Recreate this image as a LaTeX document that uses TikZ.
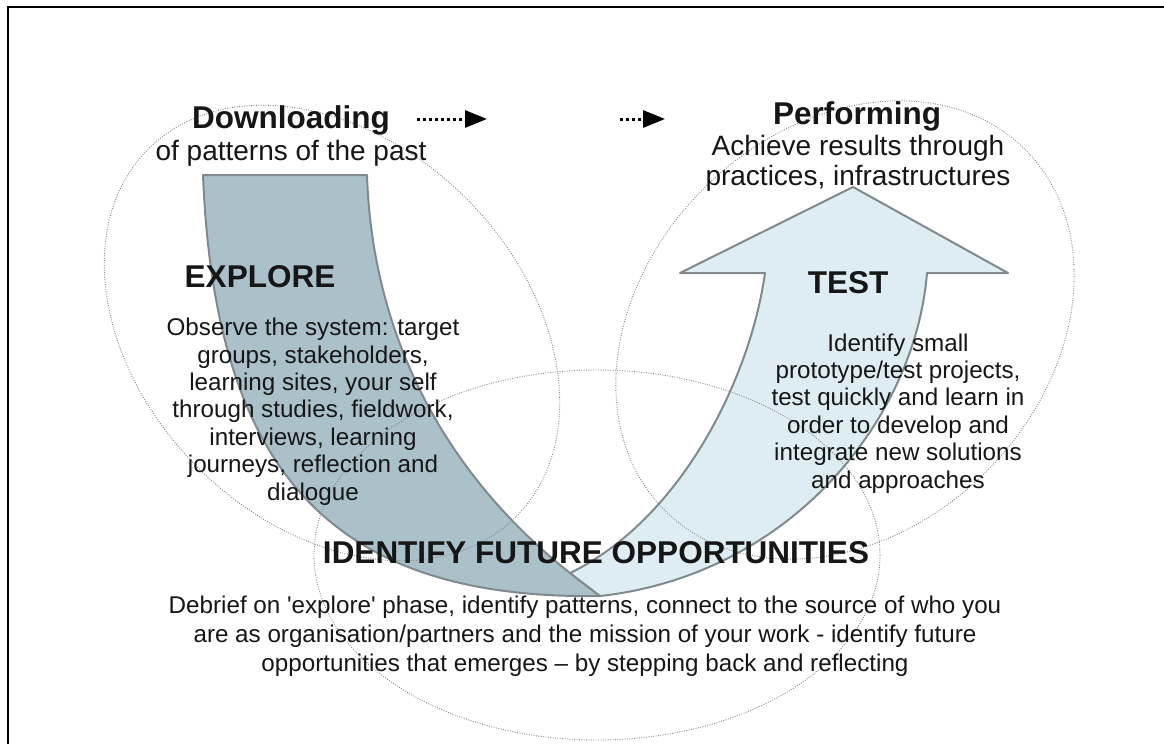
\documentclass[tikz,border=0pt]{standalone}
\usepackage{fontspec}
\setmainfont{Liberation Sans}
\usetikzlibrary{positioning}
\usetikzlibrary{arrows.meta}
\definecolor{bandgray}{RGB}{170,193,201}
\definecolor{bandlight}{RGB}{221,237,242}
\definecolor{bandedge}{RGB}{128,138,142}
\definecolor{ovalgray}{RGB}{135,135,135}
\definecolor{inkgray}{RGB}{22,22,22}
\tikzset{
  oval/.style={draw=ovalgray, line width=0.9pt, dash pattern=on 0.9pt off 1.5pt},
  band/.style={draw=bandedge, line width=2pt, line join=round},
  heading/.style={font=\fontsize{31.5}{36}\selectfont\bfseries, text=inkgray, inner sep=0pt},
  subline/.style={font=\fontsize{28}{30}\selectfont, text=inkgray, inner sep=0pt, align=center},
  bodytext/.style={font=\fontsize{24.2}{27.4}\selectfont, text=inkgray, inner sep=0pt, align=center},
  widetext/.style={bodytext, font=\fontsize{24.2}{29}\selectfont},
  flowarrow/.style={line width=3pt, dash pattern=on 2.5pt off 3.5pt, -{Triangle[length=22pt,width=17pt]}}
}

\begin{document}
\begin{tikzpicture}[x=1pt, y=-1pt]
  \useasboundingbox (0,0) rectangle (1164,744);
  \fill[white] (0,0) rectangle (1164,744);
  \draw[line width=2.2pt] (8,744) -- (8,7) -- (1164,7);

  % the U
  \filldraw[band, fill=bandgray] (203,175) -- (367,175)
       .. controls (372,330) and (440,470) .. (570,573) -- (600,596)
       .. controls (330,600) and (215,470) .. (203,175) -- cycle;
  \filldraw[band, fill=bandlight] (570,573)
       .. controls (680,520) and (750,380) .. (765,273) -- (680,273) -- (853,187)
       -- (1008,273) -- (927,273)
       .. controls (915,420) and (790,575) .. (600,596) -- cycle;

  % ovals
  \draw[oval, rotate around={-45:(332,333)}] (332,333) ellipse (260 and 190);
  \draw[oval, rotate around={45:(845,330)}] (845,330) ellipse (255 and 200);
  \draw[oval] (597,555) ellipse (283 and 185);

  \node[heading, anchor=base] (download) at (291,128) {Downloading};
  \node[subline, anchor=base] (pastpatterns) at (291,160) {of patterns of the past};
  \node[heading, anchor=base] (perform) at (857,124) {Performing};
  \node[subline, anchor=base] (achieve) at (858,185) {Achieve results through\\practices, infrastructures};

  \coordinate (flowA) at (417,119);
  \coordinate (flowB) at (487,119);
  \coordinate (flowC) at (620,119);
  \coordinate (flowD) at (665,119);
  \draw[flowarrow] (flowA) -- (flowB);
  \draw[flowarrow] (flowC) -- (flowD);

  \node[heading, anchor=base] (explore) at (260,287) {EXPLORE};
  \node[bodytext, anchor=base] (exploretext) at (313,500) {Observe the system: target\\groups, stakeholders,\\learning sites, your self\\through studies, fieldwork,\\interviews, learning\\journeys, reflection and\\dialogue};

  \node[heading, anchor=base] (test) at (848,293) {TEST};
  \node[bodytext, anchor=base] (testtext) at (898,488) {Identify small\\prototype/test projects,\\test quickly and learn in\\order to develop and\\integrate new solutions\\and approaches};

  \node[heading, anchor=base] (identify) at (596,563) {IDENTIFY FUTURE OPPORTUNITIES};
  \node[widetext, anchor=base] (debrief) at (585,671) {Debrief on \textquotesingle explore\textquotesingle{} phase, identify patterns, connect to the source of who you\\are as organisation/partners and the mission of your work - identify future\\opportunities that emerges -- by stepping back and reflecting};
\end{tikzpicture}
\end{document}
